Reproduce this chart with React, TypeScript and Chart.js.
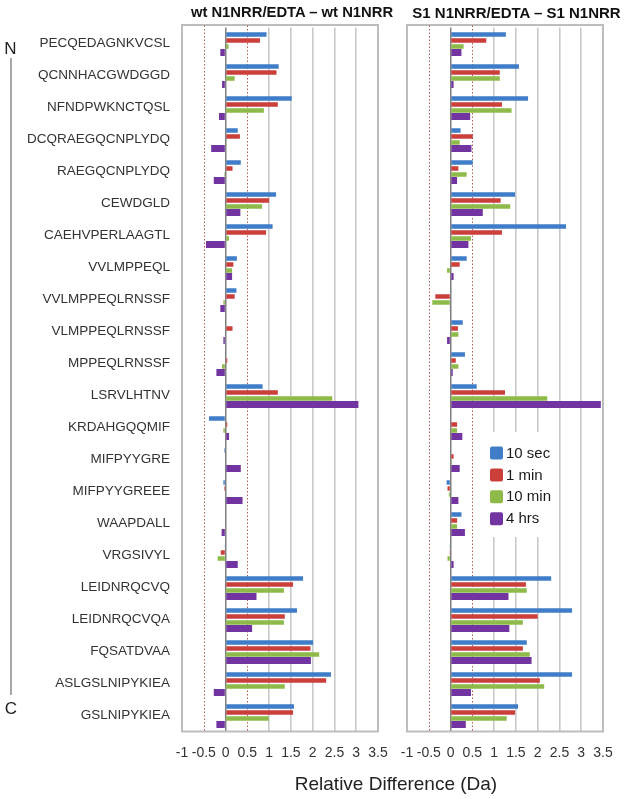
import React, { useEffect, useRef } from "react";
import { Chart, registerables } from "chart.js";

Chart.register(...registerables);

const peptides = [
  "PECQEDAGNKVCSL",
  "QCNNHACGWDGGD",
  "NFNDPWKNCTQSL",
  "DCQRAEGQCNPLYDQ",
  "RAEGQCNPLYDQ",
  "CEWDGLD",
  "CAEHVPERLAAGTL",
  "VVLMPPEQL",
  "VVLMPPEQLRNSSF",
  "VLMPPEQLRNSSF",
  "MPPEQLRNSSF",
  "LSRVLHTNV",
  "KRDAHGQQMIF",
  "MIFPYYGRE",
  "MIFPYYGREEE",
  "WAAPDALL",
  "VRGSIVYL",
  "LEIDNRQCVQ",
  "LEIDNRQCVQA",
  "FQSATDVAA",
  "ASLGSLNIPYKIEA",
  "GSLNIPYKIEA",
];

const seriesLabels = ["10 sec", "1 min", "10 min", "4 hrs"];
const seriesColors = ["#3F7DC8", "#CB3F3B", "#8DBA48", "#7134A0"];

const panelTitles = ["wt N1NRR/EDTA \u2013 wt N1NRR", "S1 N1NRR/EDTA \u2013 S1 N1NRR"];
const xAxisTitle = "Relative Difference (Da)";
const xMin = -1;
const xMax = 3.5;
const xStep = 0.5;
const thresholds = [-0.5, 0.5];

// wt N1NRR/EDTA – wt N1NRR
const wt10sec = [0.94, 1.22, 1.52, 0.28, 0.35, 1.16, 1.08, 0.26, 0.25, 0, 0, 0.85, -0.38, -0.03, -0.05, 0, -0.02, 1.78, 1.64, 2.01, 2.42, 1.57];
const wt1min = [0.79, 1.17, 1.2, 0.33, 0.16, 1.0, 0.93, 0.18, 0.21, 0.16, 0.04, 1.2, 0.04, 0, -0.03, 0, -0.11, 1.55, 1.36, 1.95, 2.31, 1.55];
const wt10min = [0.07, 0.21, 0.88, 0.01, -0.03, 0.84, 0.08, 0.15, -0.05, 0, -0.08, 2.45, -0.05, 0, 0, 0, -0.18, 1.34, 1.34, 2.15, 1.36, 0.99];
const wt4hrs = [-0.12, -0.08, -0.15, -0.33, -0.27, 0.34, -0.45, 0.15, -0.12, -0.05, -0.21, 3.05, 0.08, 0.35, 0.39, -0.09, 0.28, 0.71, 0.61, 1.96, -0.27, -0.21];

// S1 N1NRR/EDTA – S1 N1NRR
const s110sec = [1.27, 1.57, 1.78, 0.23, 0.51, 1.48, 2.65, 0.37, 0.02, 0.28, 0.33, 0.6, 0, 0, -0.09, 0.25, -0.02, 2.31, 2.79, 1.75, 2.79, 1.55];
const s11min = [0.82, 1.13, 1.18, 0.51, 0.18, 1.15, 1.18, 0.21, -0.35, 0.17, 0.12, 1.25, 0.15, 0.07, -0.07, 0.15, -0.01, 1.73, 2.0, 1.66, 2.05, 1.48];
const s110min = [0.3, 1.13, 1.4, 0.21, 0.37, 1.37, 0.47, -0.08, -0.42, 0.18, 0.18, 2.22, 0.15, 0.03, -0.04, 0.15, -0.07, 1.75, 1.66, 1.82, 2.15, 1.29];
const s14hrs = [0.25, 0.07, 0.45, 0.48, 0.15, 0.74, 0.41, 0.07, -0.02, -0.08, 0.05, 3.45, 0.27, 0.21, 0.18, 0.33, 0.07, 1.33, 1.35, 1.86, 0.47, 0.35];

const FONT = "'Liberation Sans', Arial, Helvetica, sans-serif";

const framePlugin = {
  id: "frame",
  beforeDatasetsDraw(chart: any) {
    const { ctx, chartArea } = chart;
    const xs = chart.scales.x;
    ctx.save();
    // plot border
    ctx.strokeStyle = "#bdbdbd";
    ctx.lineWidth = 2;
    ctx.strokeRect(chartArea.left, chartArea.top - 2.5, chartArea.right - chartArea.left, chartArea.bottom - chartArea.top + 2.5);
    // dotted threshold lines
    ctx.strokeStyle = "#b05a58";
    ctx.lineWidth = 1;
    ctx.setLineDash([1.5, 2]);
    thresholds.forEach((t) => {
      const px = Math.round(xs.getPixelForValue(t)) + 0.5;
      ctx.beginPath();
      ctx.moveTo(px, chartArea.top - 2);
      ctx.lineTo(px, chartArea.bottom);
      ctx.stroke();
    });
    ctx.restore();
  },
};

const legendPlugin = {
  id: "boxLegend",
  afterDatasetsDraw(chart: any, _args: any, opts: any) {
    if (!opts || !opts.show) return;
    const { ctx, chartArea } = chart;
    const left = chartArea.left + 76;
    const top = 432;
    ctx.save();
    ctx.fillStyle = "#ffffff";
    ctx.fillRect(left, top, 73, 105);
    chart.data.datasets.forEach((ds: any, i: number) => {
      const cy = top + 21 + i * 21.9;
      ctx.fillStyle = ds.backgroundColor;
      const sx = left + 7;
      const sy = cy - 6.5;
      const r = 2;
      ctx.beginPath();
      ctx.moveTo(sx + r, sy);
      ctx.lineTo(sx + 13 - r, sy);
      ctx.quadraticCurveTo(sx + 13, sy, sx + 13, sy + r);
      ctx.lineTo(sx + 13, sy + 13 - r);
      ctx.quadraticCurveTo(sx + 13, sy + 13, sx + 13 - r, sy + 13);
      ctx.lineTo(sx + r, sy + 13);
      ctx.quadraticCurveTo(sx, sy + 13, sx, sy + 13 - r);
      ctx.lineTo(sx, sy + r);
      ctx.quadraticCurveTo(sx, sy, sx + r, sy);
      ctx.fill();
      ctx.fillStyle = "#1a1a1a";
      ctx.font = `15px ${FONT}`;
      ctx.textBaseline = "middle";
      ctx.textAlign = "left";
      ctx.fillText(ds.label, left + 23, cy + 0.5);
    });
    ctx.restore();
  },
};

function makeConfig(values: number[][], showY: boolean, padLeft: number, padRight: number, showLegend: boolean): any {
  return {
    type: "bar",
    data: {
      labels: peptides,
      datasets: values.map((v, i) => ({
        label: seriesLabels[i],
        data: v,
        backgroundColor: seriesColors[i],
        borderWidth: 0,
        categoryPercentage: 0.75,
        barPercentage: i === 3 ? 1.15 : 0.75,
      })),
    },
    options: {
      indexAxis: "y",
      responsive: false,
      maintainAspectRatio: false,
      animation: false,
      devicePixelRatio: 1,
      layout: { autoPadding: false, padding: { top: 27.5, bottom: 0, left: padLeft, right: padRight } },
      plugins: {
        legend: { display: false },
        title: { display: false },
        tooltip: { enabled: false },
        boxLegend: { show: showLegend },
      },
      scales: {
        x: {
          type: "linear",
          min: xMin,
          max: xMax,
          afterFit(scale: any) {
            scale.height = 67.5;
            scale.paddingLeft = 0;
            scale.paddingRight = 0;
          },
          ticks: {
            stepSize: xStep,
            padding: 13,
            autoSkip: false,
            maxRotation: 0,
            minRotation: 0,
            color: "#333333",
            font: { family: FONT, size: 14 },
            callback: (v: any) => String(v),
          },
          grid: {
            drawTicks: false,
            color: (c: any) => {
              const v = c.tick ? c.tick.value : null;
              if (v === 0) return "#7f7f7f";
              if (v !== null && Math.abs(v) === 0.5) return "rgba(0,0,0,0)";
              return "#c9c9c9";
            },
            lineWidth: (c: any) => (c.tick && c.tick.value === 0 ? 1.5 : 1.6),
          },
          border: { display: false },
        },
        y: {
          type: "category",
          display: showY,
          afterFit(scale: any) {
            if (showY) scale.width = 182;
            scale.paddingTop = 0;
            scale.paddingBottom = 0;
          },
          ticks: {
            padding: 12,
            color: "#333333",
            font: { family: FONT, size: 13.5 },
            autoSkip: false,
          },
          grid: { display: false, drawTicks: false },
          border: { display: false },
        },
      },
    },
    plugins: [framePlugin, legendPlugin],
  };
}

function Panel(props: { left: number; width: number; values: number[][]; showY: boolean; padLeft: number; padRight: number; showLegend: boolean }) {
  const ref = useRef<HTMLCanvasElement | null>(null);
  useEffect(() => {
    if (!ref.current) return;
    const chart = new Chart(ref.current, makeConfig(props.values, props.showY, props.padLeft, props.padRight, props.showLegend));
    return () => chart.destroy();
  }, []);
  return (
    <canvas
      ref={ref}
      width={props.width}
      height={799}
      style={{ position: "absolute", left: props.left, top: 0, width: props.width, height: 799 }}
    />
  );
}

const textBase: React.CSSProperties = {
  position: "absolute",
  transform: "translate(-50%, -50%)",
  whiteSpace: "nowrap",
  fontFamily: FONT,
  lineHeight: 1,
};

export default function App() {
  return (
    <div style={{ position: "absolute", left: 0, top: 0, width: 629, height: 799, background: "#fff", overflow: "hidden" }}>
      <Panel left={0} width={396} values={[wt10sec, wt1min, wt10min, wt4hrs]} showY={true} padLeft={0} padRight={18} showLegend={false} />
      <Panel left={396} width={233} values={[s110sec, s11min, s110min, s14hrs]} showY={false} padLeft={11} padRight={26} showLegend={true} />
      <div style={{ ...textBase, left: 292, top: 12, fontWeight: "bold", fontSize: 14.8, color: "#111" }}>{panelTitles[0]}</div>
      <div style={{ ...textBase, left: 516.5, top: 12, fontWeight: "bold", fontSize: 15, color: "#111" }}>{panelTitles[1]}</div>
      <div style={{ ...textBase, left: 396, top: 783, fontSize: 19, color: "#222" }}>{xAxisTitle}</div>
      <div style={{ ...textBase, left: 10.5, top: 48, fontSize: 17, color: "#222" }}>N</div>
      <div style={{ ...textBase, left: 11, top: 708, fontSize: 17, color: "#222" }}>C</div>
      <div style={{ position: "absolute", left: 10, top: 58, width: 2, height: 637, background: "#a8a8a8" }} />
    </div>
  );
}
